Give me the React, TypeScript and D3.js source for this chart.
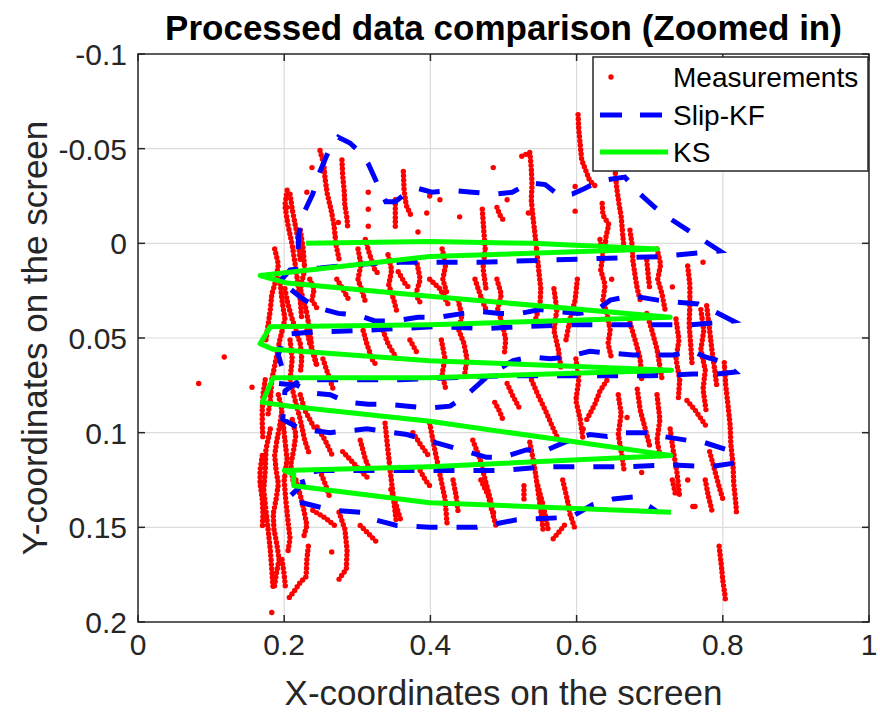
import React from 'react';
import * as d3 from 'd3';

// axis ticks
const xTicks = [0, 0.2, 0.4, 0.6, 0.8, 1];
const xTickLabels = ['0', '0.2', '0.4', '0.6', '0.8', '1'];
const yTicks = [-0.1, -0.05, 0, 0.05, 0.1, 0.15, 0.2];
const yTickLabels = ['-0.1', '-0.05', '0', '0.05', '0.1', '0.15', '0.2'];

// KS (smoother output)
const ksX = [0.230, 0.399, 0.540, 0.710, 0.399, 0.167, 0.204, 0.399, 0.728, 0.399, 0.181, 0.167, 0.185, 0.399, 0.730, 0.399, 0.185, 0.170, 0.208, 0.399, 0.729, 0.399, 0.200, 0.213, 0.213, 0.399, 0.729];
const ksY = [0.000, -0.001, 0.000, 0.003, 0.007, 0.017, 0.021, 0.028, 0.039, 0.043, 0.044, 0.053, 0.056, 0.062, 0.067, 0.071, 0.071, 0.084, 0.086, 0.094, 0.112, 0.118, 0.120, 0.122, 0.128, 0.137, 0.142];

// Slip-KF
const kfX = [0.219, 0.220, 0.228, 0.239, 0.249, 0.260, 0.274, 0.290, 0.304, 0.315, 0.328, 0.339, 0.352, 0.365, 0.383, 0.402, 0.430, 0.457, 0.488, 0.512, 0.536, 0.557, 0.577, 0.594, 0.611, 0.632, 0.666, 0.687, 0.707, 0.728, 0.752, 0.776, 0.796,
  0.769, 0.714, 0.632, 0.550, 0.468, 0.409, 0.358, 0.304, 0.249, 0.208, 0.192,
  0.208, 0.224, 0.246, 0.274, 0.301, 0.324, 0.352, 0.383, 0.413, 0.445, 0.468, 0.495, 0.523, 0.550, 0.572, 0.602, 0.625, 0.646, 0.659, 0.680, 0.711, 0.735, 0.766, 0.789, 0.814,
  0.789, 0.755, 0.700, 0.642, 0.587, 0.527, 0.472, 0.409, 0.358, 0.304, 0.235, 0.201, 0.192, 0.198, 0.192,
  0.218, 0.238, 0.263, 0.287, 0.315, 0.342, 0.369, 0.397, 0.427, 0.450, 0.482, 0.513, 0.536, 0.564, 0.587, 0.618, 0.646, 0.677, 0.700, 0.732, 0.759, 0.776, 0.803, 0.817,
  0.792, 0.759, 0.700, 0.646, 0.577, 0.495, 0.427, 0.358, 0.222, 0.201, 0.198,
  0.222, 0.263, 0.313, 0.368, 0.423, 0.450, 0.477, 0.499, 0.532, 0.554, 0.584, 0.618, 0.642, 0.663, 0.696, 0.718, 0.751, 0.773, 0.806, 0.817,
  0.782, 0.728, 0.669, 0.614, 0.560, 0.495, 0.413, 0.331, 0.249, 0.222, 0.226, 0.204,
  0.245, 0.267, 0.304, 0.324, 0.354, 0.399, 0.464, 0.518, 0.573, 0.595, 0.622, 0.650, 0.677, 0.700, 0.711];
const kfY = [0.003, -0.005, -0.017, -0.026, -0.038, -0.048, -0.056, -0.053, -0.048, -0.042, -0.031, -0.022, -0.022, -0.026, -0.029, -0.027, -0.028, -0.027, -0.026, -0.027, -0.032, -0.031, -0.025, -0.026, -0.029, -0.033, -0.035, -0.026, -0.019, -0.013, -0.007, -0.001, 0.004,
  0.005, 0.007, 0.008, 0.009, 0.010, 0.010, 0.010, 0.011, 0.013, 0.014, 0.021,
  0.024, 0.029, 0.034, 0.037, 0.038, 0.041, 0.041, 0.039, 0.039, 0.037, 0.036, 0.037, 0.037, 0.035, 0.036, 0.037, 0.036, 0.030, 0.029, 0.028, 0.030, 0.031, 0.032, 0.036, 0.041,
  0.042, 0.043, 0.043, 0.043, 0.043, 0.044, 0.045, 0.044, 0.045, 0.046, 0.047, 0.048, 0.059, 0.067, 0.074,
  0.075, 0.079, 0.080, 0.084, 0.085, 0.085, 0.086, 0.087, 0.086, 0.080, 0.069, 0.062, 0.060, 0.061, 0.060, 0.057, 0.058, 0.059, 0.059, 0.059, 0.057, 0.060, 0.063, 0.068,
  0.069, 0.069, 0.070, 0.070, 0.070, 0.070, 0.071, 0.072, 0.072, 0.078, 0.093,
  0.098, 0.100, 0.098, 0.101, 0.107, 0.110, 0.113, 0.113, 0.109, 0.110, 0.105, 0.101, 0.102, 0.100, 0.100, 0.102, 0.104, 0.105, 0.109, 0.116,
  0.118, 0.117, 0.118, 0.118, 0.118, 0.120, 0.120, 0.120, 0.120, 0.122, 0.127, 0.135,
  0.139, 0.141, 0.142, 0.146, 0.149, 0.150, 0.150, 0.146, 0.145, 0.144, 0.138, 0.135, 0.134, 0.139, 0.142];

// Measurements: runs of consecutive samples, [x, y]
const measLeft: [number, number][][] = [
  [[0.204, -0.028], [0.201, -0.020], [0.205, -0.010], [0.211, 0.001], [0.215, 0.011], [0.219, 0.022], [0.222, 0.030], [0.224, 0.040]],
  [[0.222, -0.007], [0.226, 0.003], [0.228, 0.014], [0.222, 0.024], [0.230, 0.035], [0.235, 0.046], [0.238, 0.056], [0.244, 0.064]],
  [[0.194, 0.019], [0.197, 0.030], [0.201, 0.040], [0.194, 0.051], [0.189, 0.061], [0.183, 0.072], [0.181, 0.083], [0.178, 0.090]],
  [[0.208, 0.051], [0.211, 0.061], [0.208, 0.072], [0.215, 0.083], [0.222, 0.093], [0.228, 0.104], [0.235, 0.112]],
  [[0.181, 0.098], [0.175, 0.109], [0.174, 0.120], [0.172, 0.130], [0.175, 0.141], [0.178, 0.151], [0.181, 0.162], [0.183, 0.172], [0.185, 0.183]],
  [[0.198, 0.093], [0.201, 0.104], [0.204, 0.114], [0.200, 0.125], [0.202, 0.135], [0.205, 0.146], [0.208, 0.156], [0.205, 0.163]],
  [[0.207, 0.187], [0.215, 0.183], [0.222, 0.179], [0.230, 0.176], [0.231, 0.167], [0.233, 0.160]],
  [[0.216, 0.125], [0.222, 0.133], [0.227, 0.141], [0.231, 0.149], [0.226, 0.156]],
  [[0.187, 0.003], [0.192, 0.011], [0.189, 0.019], [0.183, 0.027], [0.181, 0.035], [0.178, 0.043], [0.175, 0.051]],
  [[0.208, -0.026], [0.211, -0.018], [0.215, -0.010], [0.219, -0.002], [0.222, 0.009]],
  [[0.174, 0.072], [0.171, 0.080], [0.170, 0.088], [0.170, 0.096], [0.171, 0.104]],
  [[0.192, 0.080], [0.197, 0.088], [0.194, 0.096], [0.190, 0.104], [0.187, 0.112], [0.189, 0.120], [0.192, 0.127], [0.189, 0.135], [0.185, 0.143], [0.186, 0.151], [0.190, 0.159], [0.193, 0.167], [0.189, 0.175], [0.186, 0.183]],
  [[0.211, 0.093], [0.216, 0.101], [0.213, 0.109], [0.209, 0.117], [0.212, 0.125]],
  [[0.201, 0.024], [0.205, 0.032], [0.211, 0.040], [0.216, 0.046], [0.222, 0.053], [0.224, 0.061], [0.222, 0.069]],
  [[0.222, 0.080], [0.228, 0.088], [0.235, 0.093], [0.242, 0.098]],
  [[0.170, 0.112], [0.167, 0.120], [0.167, 0.127], [0.170, 0.135], [0.171, 0.143], [0.170, 0.151]],
  [[0.197, 0.167], [0.200, 0.175], [0.202, 0.183]],
];

const measTop: [number, number][][] = [
  [[0.249, -0.049], [0.254, -0.042], [0.256, -0.034], [0.259, -0.026], [0.264, -0.018], [0.268, -0.010], [0.271, 0.001], [0.276, 0.010]],
  [[0.279, -0.044], [0.280, -0.036], [0.282, -0.028], [0.283, -0.020], [0.286, -0.013], [0.287, -0.007]],
  [[0.363, -0.038], [0.364, -0.028], [0.367, -0.020], [0.373, -0.015]],
  [[0.352, -0.023], [0.352, -0.015], [0.352, -0.009]],
  [[0.471, -0.018], [0.473, -0.007], [0.475, 0.003], [0.472, 0.013], [0.476, 0.024]],
  [[0.525, -0.046], [0.536, -0.048], [0.538, -0.040], [0.539, -0.031], [0.538, -0.023], [0.540, -0.015], [0.543, -0.005], [0.546, 0.006], [0.549, 0.017], [0.551, 0.024], [0.550, 0.032], [0.544, 0.040]],
  [[0.602, -0.068], [0.603, -0.060], [0.605, -0.052], [0.607, -0.044], [0.613, -0.038], [0.618, -0.033], [0.629, -0.029]],
  [[0.635, -0.021], [0.636, -0.015], [0.644, -0.010], [0.640, -0.003], [0.639, 0.003]],
  [[0.653, -0.037], [0.655, -0.029], [0.658, -0.021], [0.661, -0.014], [0.663, -0.005], [0.665, 0.003]],
  [[0.673, -0.007], [0.676, 0.001], [0.677, 0.009], [0.680, 0.017], [0.683, 0.024], [0.687, 0.030]],
  [[0.752, 0.012], [0.755, 0.022], [0.755, 0.032], [0.754, 0.043], [0.756, 0.053], [0.758, 0.064]],
  [[0.696, 0.009], [0.698, 0.017], [0.700, 0.024]],
  [[0.491, -0.019], [0.495, -0.015], [0.502, -0.011]],
];

const measMid: [number, number][][] = [
  [[0.272, 0.019], [0.280, 0.024], [0.290, 0.031]],
  [[0.311, -0.002], [0.317, 0.006], [0.324, 0.014], [0.331, 0.017]],
  [[0.356, 0.015], [0.365, 0.021], [0.372, 0.024]],
  [[0.399, 0.019], [0.413, 0.024], [0.424, 0.032]],
  [[0.461, 0.019], [0.468, 0.027], [0.477, 0.036]],
  [[0.601, 0.019], [0.598, 0.030], [0.591, 0.040], [0.585, 0.052]],
  [[0.696, 0.037], [0.703, 0.046], [0.710, 0.056], [0.717, 0.072]],
  [[0.673, 0.042], [0.680, 0.051], [0.687, 0.061], [0.689, 0.072]],
  [[0.778, 0.033], [0.782, 0.046], [0.785, 0.056], [0.789, 0.067], [0.792, 0.076]],
  [[0.802, 0.063], [0.804, 0.075], [0.807, 0.085], [0.810, 0.096], [0.811, 0.106], [0.814, 0.117], [0.815, 0.127], [0.818, 0.138], [0.819, 0.144]],
  [[0.505, 0.074], [0.512, 0.080], [0.523, 0.088]],
  [[0.536, 0.070], [0.547, 0.080], [0.557, 0.088], [0.566, 0.096], [0.573, 0.102]],
  [[0.488, 0.084], [0.495, 0.089], [0.499, 0.093]],
  [[0.614, 0.093], [0.625, 0.085], [0.632, 0.078], [0.642, 0.072]],
  [[0.683, 0.077], [0.687, 0.088], [0.694, 0.098], [0.700, 0.107]],
  [[0.751, 0.083], [0.762, 0.088], [0.778, 0.097]],
  [[0.231, 0.046], [0.235, 0.053], [0.241, 0.059], [0.245, 0.065]],
  [[0.253, 0.061], [0.259, 0.068], [0.267, 0.077]],
  [[0.308, 0.046], [0.313, 0.053], [0.320, 0.061], [0.327, 0.065]],
  [[0.335, 0.046], [0.342, 0.053], [0.354, 0.061]],
  [[0.372, 0.051], [0.382, 0.058]],
  [[0.245, 0.097], [0.256, 0.104], [0.267, 0.113]],
  [[0.280, 0.110], [0.297, 0.117], [0.317, 0.125]],
  [[0.338, 0.095], [0.341, 0.106], [0.345, 0.120], [0.349, 0.133], [0.353, 0.146]],
  [[0.376, 0.100], [0.386, 0.106], [0.399, 0.113]],
  [[0.386, 0.120], [0.393, 0.125], [0.399, 0.128]],
  [[0.239, 0.141], [0.256, 0.145], [0.272, 0.150]],
  [[0.399, 0.095], [0.406, 0.109], [0.413, 0.122], [0.420, 0.135], [0.423, 0.149]],
  [[0.458, 0.104], [0.468, 0.114], [0.475, 0.125], [0.482, 0.135], [0.486, 0.144], [0.491, 0.151]],
  [[0.536, 0.105], [0.542, 0.117], [0.547, 0.130], [0.551, 0.141], [0.554, 0.151]],
  [[0.581, 0.125], [0.587, 0.135], [0.591, 0.143], [0.598, 0.151]],
  [[0.728, 0.098], [0.732, 0.109], [0.737, 0.120], [0.741, 0.134]],
  [[0.782, 0.110], [0.789, 0.120], [0.796, 0.130], [0.800, 0.135]],
  [[0.235, 0.019], [0.241, 0.024], [0.238, 0.030], [0.246, 0.035]],
  [[0.301, 0.003], [0.305, 0.011], [0.301, 0.019], [0.308, 0.027], [0.312, 0.032]],
  [[0.342, 0.006], [0.347, 0.014], [0.343, 0.022], [0.350, 0.030], [0.354, 0.036]],
  [[0.382, 0.011], [0.386, 0.019], [0.380, 0.027], [0.387, 0.032]],
  [[0.416, 0.003], [0.421, 0.011], [0.417, 0.019], [0.423, 0.027]],
  [[0.438, 0.030], [0.443, 0.038], [0.439, 0.046], [0.446, 0.053], [0.450, 0.061], [0.447, 0.069]],
  [[0.491, 0.019], [0.497, 0.027], [0.492, 0.035], [0.499, 0.043], [0.503, 0.051], [0.501, 0.059]],
  [[0.569, 0.024], [0.573, 0.035], [0.569, 0.046], [0.575, 0.056], [0.579, 0.067]],
  [[0.632, -0.002], [0.636, 0.006], [0.633, 0.014], [0.639, 0.022], [0.636, 0.030], [0.642, 0.038], [0.646, 0.046], [0.643, 0.053], [0.648, 0.061]],
  [[0.710, 0.003], [0.715, 0.011], [0.711, 0.019], [0.717, 0.027], [0.721, 0.035]],
  [[0.736, 0.040], [0.740, 0.051], [0.736, 0.061], [0.741, 0.072], [0.739, 0.083]],
  [[0.770, 0.035], [0.774, 0.046], [0.770, 0.056], [0.776, 0.067], [0.773, 0.077], [0.777, 0.088]],
  [[0.415, 0.051], [0.420, 0.061], [0.416, 0.069], [0.421, 0.077]],
  [[0.599, 0.061], [0.603, 0.072], [0.599, 0.083], [0.605, 0.093], [0.609, 0.104]],
  [[0.657, 0.080], [0.661, 0.090], [0.657, 0.101], [0.662, 0.112], [0.665, 0.120]],
  [[0.710, 0.080], [0.714, 0.093], [0.710, 0.104], [0.715, 0.114]],
  [[0.304, 0.104], [0.311, 0.114], [0.317, 0.120]],
  [[0.249, 0.120], [0.256, 0.127], [0.263, 0.135]],
  [[0.776, 0.125], [0.780, 0.133], [0.785, 0.141]],
];

const measBottom: [number, number][][] = [
  [[0.275, 0.142], [0.283, 0.151], [0.286, 0.162], [0.285, 0.172], [0.272, 0.179]],
  [[0.304, 0.149], [0.317, 0.154], [0.327, 0.158]],
  [[0.346, 0.130], [0.353, 0.138], [0.360, 0.147]],
  [[0.431, 0.125], [0.435, 0.133], [0.438, 0.142]],
  [[0.469, 0.125], [0.479, 0.133], [0.484, 0.141], [0.490, 0.144]],
  [[0.528, 0.128], [0.528, 0.135]],
  [[0.547, 0.128], [0.554, 0.138], [0.561, 0.151]],
  [[0.568, 0.156], [0.577, 0.152], [0.587, 0.147]],
  [[0.731, 0.125], [0.736, 0.134]],
  [[0.795, 0.160], [0.798, 0.170], [0.800, 0.178], [0.803, 0.186], [0.804, 0.190]],
];

const measSingles: [number, number][] = [
  [0.274, -0.011], [0.315, -0.027], [0.315, -0.018], [0.315, -0.009], [0.440, -0.014], [0.486, -0.040],
  [0.598, -0.030], [0.598, -0.017], [0.773, 0.010], [0.731, 0.023], [0.648, 0.019], [0.395, -0.016],
  [0.383, -0.006], [0.399, -0.025], [0.413, -0.023], [0.534, -0.016], [0.505, -0.023], [0.183, 0.195],
  [0.118, 0.060], [0.083, 0.074], [0.156, 0.076], [0.204, -0.019], [0.231, -0.027], [0.238, -0.040],
  [0.265, 0.163], [0.762, 0.139], [0.759, 0.139], [0.752, 0.125], [0.669, 0.092], [0.689, 0.121], [0.609, 0.098],
];

const W = 880;
const H = 717;
const FONT = '"Liberation Sans", Arial, Helvetica, sans-serif';
const AX = '#262626';

export default function App() {
  const x = d3.scaleLinear().domain([0, 1]).range([138, 869]);
  const y = d3.scaleLinear().domain([-0.1, 0.2]).range([54, 622]);
  const line = d3.line<[number, number]>().x(d => x(d[0])).y(d => y(d[1]));
  const ksPts = ksX.map((v, i) => [v, ksY[i]] as [number, number]);
  const kfPts = kfX.map((v, i) => [v, kfY[i]] as [number, number]);
  const runs = [...measLeft, ...measTop, ...measMid, ...measBottom];
  const [x0, x1] = x.range();
  const [y0, y1] = y.range();

  return (
    <svg width={W} height={H} style={{ position: 'absolute', left: 0, top: 0, background: '#fff' }} fontFamily={FONT}>
      <rect width={W} height={H} fill="#fff" />
      {/* grid */}
      {xTicks.slice(1, -1).map(t => (
        <line key={'gx' + t} x1={x(t)} x2={x(t)} y1={y0} y2={y1} stroke="#dcdcdc" strokeWidth={1.2} />
      ))}
      {yTicks.slice(1, -1).map(t => (
        <line key={'gy' + t} x1={x0} x2={x1} y1={y(t)} y2={y(t)} stroke="#dcdcdc" strokeWidth={1.2} />
      ))}

      {/* measurements, drawn as '.' markers along each run */}
      <g stroke="#ff0000" fill="none" strokeWidth={5.4} strokeLinecap="round" strokeDasharray="0 4.4">
        {runs.map((r, i) => <path key={'m' + i} d={line(r) || ''} />)}
      </g>
      <g fill="#ff0000">
        {measSingles.map((p, i) => <circle key={'s' + i} cx={x(p[0])} cy={y(p[1])} r={2.7} />)}
      </g>

      {/* Slip-KF */}
      <path d={line(kfPts) || ''} fill="none" stroke="#0000ff" strokeWidth={5} strokeDasharray="21 19" />
      {/* KS */}
      <path d={line(ksPts) || ''} fill="none" stroke="#00ff00" strokeWidth={5} strokeLinejoin="round" />

      {/* box + ticks */}
      <rect x={x0} y={y0} width={x1 - x0} height={y1 - y0} fill="none" stroke={AX} strokeWidth={1.5} />
      {xTicks.map(t => (
        <g key={'tx' + t} stroke={AX} strokeWidth={1.5}>
          <line x1={x(t)} x2={x(t)} y1={y1} y2={y1 - 7} />
          <line x1={x(t)} x2={x(t)} y1={y0} y2={y0 + 7} />
        </g>
      ))}
      {yTicks.map(t => (
        <g key={'ty' + t} stroke={AX} strokeWidth={1.5}>
          <line x1={x0} x2={x0 + 7} y1={y(t)} y2={y(t)} />
          <line x1={x1} x2={x1 - 7} y1={y(t)} y2={y(t)} />
        </g>
      ))}
      {xTicks.map((t, i) => (
        <text key={'lx' + t} x={x(t)} y={655} textAnchor="middle" fontSize={30} fill={AX}>{xTickLabels[i]}</text>
      ))}
      {yTicks.map((t, i) => (
        <text key={'ly' + t} x={127} y={y(t) + 11} textAnchor="end" fontSize={30} fill={AX}>{yTickLabels[i]}</text>
      ))}

      {/* labels */}
      <text x={(x0 + x1) / 2} y={40} textAnchor="middle" fontSize={35} fontWeight="bold" fill="#000">Processed data comparison (Zoomed in)</text>
      <text x={(x0 + x1) / 2} y={705} textAnchor="middle" fontSize={35} fill={AX}>X-coordinates on the screen</text>
      <text transform={`translate(47,${(y0 + y1) / 2}) rotate(-90)`} textAnchor="middle" fontSize={35} fill={AX}>Y-coordinates on the screen</text>

      {/* legend */}
      <rect x={593} y={57} width={275} height={114} fill="#fff" stroke={AX} strokeWidth={1.5} />
      <circle cx={611} cy={77} r={2.7} fill="#ff0000" />
      <text x={673} y={87} fontSize={28} fill="#000">Measurements</text>
      <line x1={600} x2={668} y1={115} y2={115} stroke="#0000ff" strokeWidth={5} strokeDasharray="22 18" />
      <text x={673} y={125} fontSize={28} fill="#000">Slip-KF</text>
      <line x1={600} x2={668} y1={152} y2={152} stroke="#00ff00" strokeWidth={5} />
      <text x={673} y={162} fontSize={28} fill="#000">KS</text>
    </svg>
  );
}
